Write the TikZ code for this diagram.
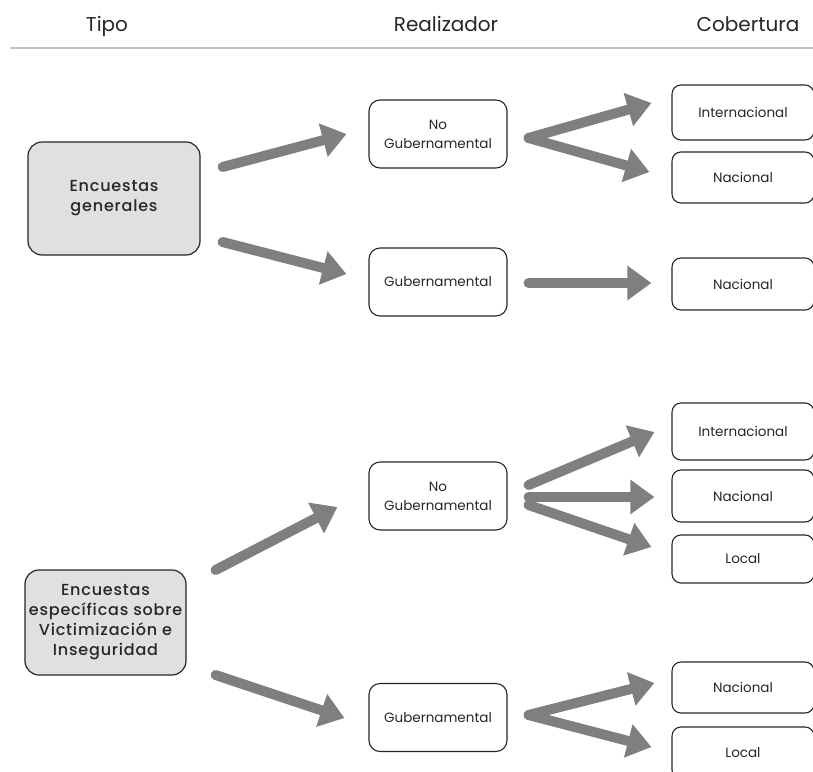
\documentclass[tikz,border=0pt]{standalone}
\usepackage{fontspec}
\setmainfont{Poppins}
\newfontfamily\typefont[LetterSpace=5]{Poppins Medium}
\usetikzlibrary{arrows.meta}
\definecolor{arrowgray}{HTML}{7F7F7F}
\definecolor{typefill}{HTML}{E0E0E0}
\definecolor{rulegray}{HTML}{C4C4C4}
\begin{document}
\begin{tikzpicture}[x=1pt,y=-1pt,
  header/.style={font=\fontsize{20}{24}\selectfont, text=black!85, anchor=base},
  typebox/.style={draw=black!85, line width=1.2pt, fill=typefill, rounded corners=14pt,
    align=center, inner sep=0pt, text=black!85,
    font=\fontsize{16}{20}\typefont},
  agentbox/.style={draw=black!85, line width=1.1pt, rounded corners=11pt,
    minimum width=138pt, minimum height=68pt, align=center, inner sep=0pt,
    text=black!85, font=\fontsize{13.5}{19}\selectfont},
  scopebox/.style={draw=black!85, line width=1.1pt, rounded corners=9pt,
    minimum width=142pt, minimum height=53pt, align=center, inner sep=0pt,
    text=black!85, font=\fontsize{13.5}{19}\selectfont},
  flow/.style={draw=arrowgray, line width=10pt, line cap=round,
    -{Triangle[length=24pt,width=33pt]}}
]
\useasboundingbox (0,0) rectangle (813,771);

% column headings and rule
\node[header] (hTipo) at (107,31) {Tipo};
\node[header] (hReal) at (446,31) {Realizador};
\node[header] (hCob) at (748,31) {Cobertura};
\coordinate (ruleL) at (10,48);
\coordinate (ruleR) at (813,48);
\draw[rulegray, line width=2.5pt] (ruleL) -- (ruleR);

% survey types
\node[typebox, minimum width=172pt, minimum height=113pt] (gen) at (114,198.5)
  {Encuestas\\generales};
\node[typebox, minimum width=161pt, minimum height=105pt] (esp) at (105.5,622.5)
  {Encuestas\\específicas sobre\\Victimización e\\Inseguridad};

% agents
\node[agentbox] (ng1) at (438,134) {No\\Gubernamental};
\node[agentbox] (g1) at (438,282) {Gubernamental};
\node[agentbox] (ng2) at (438,496) {No\\Gubernamental};
\node[agentbox] (g2) at (438,717.5) {Gubernamental};

% coverage
\node[scopebox, minimum height=55pt] (int1) at (743,112.5) {Internacional};
\node[scopebox, minimum height=51pt] (nac1) at (743,177.5) {Nacional};
\node[scopebox, minimum height=52pt] (nac1b) at (743,284) {Nacional};
\node[scopebox, minimum height=57pt] (int2) at (743,431.5) {Internacional};
\node[scopebox, minimum height=52pt] (nac2) at (743,496) {Nacional};
\node[scopebox, minimum height=48pt] (loc2) at (743,559) {Local};
\node[scopebox, minimum height=51pt] (nac3) at (743,687.5) {Nacional};
\node[scopebox, minimum height=52pt] (loc3) at (743,753) {Local};

% type -> agent
\draw[flow] ([shift={(22,-31.5)}]gen.east) -- ([shift={(-22,0)}]ng1.west);
\draw[flow] ([shift={(22,43.5)}]gen.east) -- ([shift={(-22,-8)}]g1.west);
\draw[flow] ([shift={(29,-52.5)}]esp.east) -- ([shift={(-31,11)}]ng2.west);
\draw[flow] ([shift={(29,52.5)}]esp.east) -- ([shift={(-24,0.5)}]g2.west);

% agent -> coverage
\draw[flow] ([shift={(21,4)}]ng1.east) -- ([shift={(-20,-9.5)}]int1.west);
\draw[flow] ([shift={(21,4)}]ng1.east) -- ([shift={(-22,-5.5)}]nac1.west);
\draw[flow] ([shift={(21,1)}]g1.east) -- ([shift={(-20,-1)}]nac1b.west);
\draw[flow] ([shift={(21,-11)}]ng2.east) -- ([shift={(-17,0.5)}]int2.west);
\draw[flow] ([shift={(21,1)}]ng2.east) -- ([shift={(-17,1)}]nac2.west);
\draw[flow] ([shift={(21,9)}]ng2.east) -- ([shift={(-20,-12)}]loc2.west);
\draw[flow] ([shift={(21,-2.5)}]g2.east) -- ([shift={(-17,-4.5)}]nac3.west);
\draw[flow] ([shift={(21,-2.5)}]g2.east) -- ([shift={(-20,-6)}]loc3.west);
\end{tikzpicture}
\end{document}
